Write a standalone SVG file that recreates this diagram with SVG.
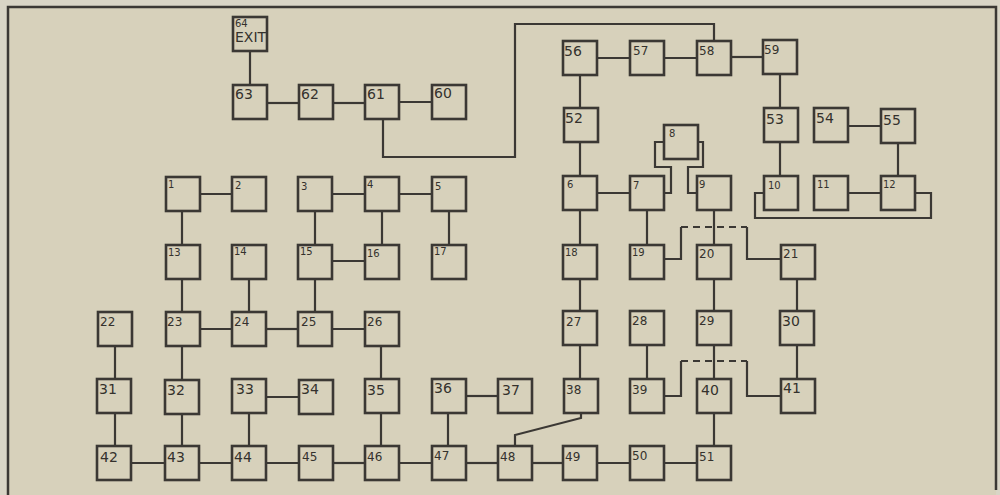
<svg xmlns="http://www.w3.org/2000/svg" width="1000" height="495" viewBox="0 0 1000 495">
<style>
.bg{fill:#d7d1bb}
.frame{fill:none;stroke:#3b3834;stroke-width:2.5}
.box{fill:#d7d1bb;stroke:#3b3834;stroke-width:2.6}
.c{fill:none;stroke:#3b3834;stroke-width:2.2}
.d{fill:none;stroke:#3b3834;stroke-width:2.2;stroke-dasharray:7 5}
text{font-family:"DejaVu Sans","Liberation Sans",sans-serif;fill:#34312d}
.s{font-size:10px}
.m{font-size:12px}
.l{font-size:14px}
</style>
<rect x="0" y="0" width="1000" height="495" fill="#d9d5c6"/>
<rect class="bg" x="8" y="7" width="988" height="488"/>
<path class="frame" d="M8,495 V7 H996 V490"/>
<g id="connectors">
<line class="c" x1="250" y1="51" x2="250" y2="85"/>
<line class="c" x1="267" y1="103" x2="299" y2="103"/>
<line class="c" x1="333" y1="103" x2="365" y2="103"/>
<line class="c" x1="399" y1="102" x2="432" y2="102"/>
<path class="c" d="M383,119 V157 H515 V24 H714 V41"/>
<line class="c" x1="597" y1="58" x2="630" y2="58"/>
<line class="c" x1="664" y1="58" x2="697" y2="58"/>
<line class="c" x1="731" y1="57" x2="763" y2="57"/>
<line class="c" x1="580" y1="75" x2="580" y2="108"/>
<line class="c" x1="580" y1="142" x2="580" y2="176"/>
<line class="c" x1="780" y1="74" x2="780" y2="108"/>
<line class="c" x1="780" y1="142" x2="780" y2="176"/>
<line class="c" x1="848" y1="126" x2="881" y2="126"/>
<line class="c" x1="898" y1="143" x2="898" y2="176"/>
<line class="c" x1="848" y1="193" x2="881" y2="193"/>
<path class="c" d="M764,193 H755 V218 H931 V193 H915"/>
<path class="c" d="M664,193 H671 V167 H655 V142 H664"/>
<path class="c" d="M698,142 H703 V167 H688 V193 H697"/>
<line class="c" x1="597" y1="193" x2="630" y2="193"/>
<line class="c" x1="199" y1="194" x2="232" y2="194"/>
<line class="c" x1="332" y1="194" x2="365" y2="194"/>
<line class="c" x1="399" y1="194" x2="432" y2="194"/>
<line class="c" x1="182" y1="211" x2="182" y2="245"/>
<line class="c" x1="315" y1="211" x2="315" y2="245"/>
<line class="c" x1="382" y1="211" x2="382" y2="245"/>
<line class="c" x1="449" y1="211" x2="449" y2="245"/>
<line class="c" x1="580" y1="210" x2="580" y2="245"/>
<line class="c" x1="647" y1="210" x2="647" y2="245"/>
<line class="c" x1="714" y1="210" x2="714" y2="245"/>
<path class="c" d="M664,259 H681 V227"/>
<line class="d" x1="681" y1="227" x2="747" y2="227"/>
<path class="c" d="M747,227 V259 H781"/>
<line class="c" x1="332" y1="261" x2="365" y2="261"/>
<line class="c" x1="182" y1="279" x2="182" y2="312"/>
<line class="c" x1="249" y1="279" x2="249" y2="312"/>
<line class="c" x1="315" y1="279" x2="315" y2="312"/>
<line class="c" x1="199" y1="329" x2="232" y2="329"/>
<line class="c" x1="266" y1="329" x2="298" y2="329"/>
<line class="c" x1="332" y1="329" x2="365" y2="329"/>
<line class="c" x1="115" y1="346" x2="115" y2="379"/>
<line class="c" x1="182" y1="346" x2="182" y2="380"/>
<line class="c" x1="381" y1="346" x2="381" y2="379"/>
<line class="c" x1="580" y1="279" x2="580" y2="311"/>
<line class="c" x1="580" y1="345" x2="580" y2="379"/>
<line class="c" x1="647" y1="345" x2="647" y2="379"/>
<line class="c" x1="714" y1="279" x2="714" y2="311"/>
<line class="c" x1="714" y1="345" x2="714" y2="379"/>
<line class="c" x1="797" y1="279" x2="797" y2="311"/>
<line class="c" x1="797" y1="345" x2="797" y2="379"/>
<line class="c" x1="266" y1="397" x2="299" y2="397"/>
<line class="c" x1="466" y1="396" x2="498" y2="396"/>
<path class="c" d="M664,396 H681 V361"/>
<line class="d" x1="681" y1="361" x2="747" y2="361"/>
<path class="c" d="M747,361 V396 H781"/>
<line class="c" x1="115" y1="413" x2="115" y2="446"/>
<line class="c" x1="182" y1="414" x2="182" y2="446"/>
<line class="c" x1="249" y1="413" x2="249" y2="446"/>
<line class="c" x1="381" y1="413" x2="381" y2="446"/>
<line class="c" x1="448" y1="413" x2="448" y2="446"/>
<line class="c" x1="714" y1="413" x2="714" y2="446"/>
<path class="c" d="M581,413 V418 L515,435 V446"/>
<line class="c" x1="132" y1="463" x2="165" y2="463"/>
<line class="c" x1="199" y1="463" x2="232" y2="463"/>
<line class="c" x1="266" y1="463" x2="299" y2="463"/>
<line class="c" x1="333" y1="463" x2="365" y2="463"/>
<line class="c" x1="399" y1="463" x2="432" y2="463"/>
<line class="c" x1="466" y1="463" x2="498" y2="463"/>
<line class="c" x1="532" y1="463" x2="563" y2="463"/>
<line class="c" x1="597" y1="463" x2="630" y2="463"/>
<line class="c" x1="664" y1="463" x2="697" y2="463"/>
</g>
<g id="n64"><rect class="box" x="233" y="17" width="34" height="34"/><text class="s" x="235" y="27">64</text><text class="l" x="235" y="42">EXIT</text></g>
<g id="n63"><rect class="box" x="233" y="85" width="34" height="34"/><text class="l" x="235" y="99">63</text></g>
<g id="n62"><rect class="box" x="299" y="85" width="34" height="34"/><text class="l" x="301" y="99">62</text></g>
<g id="n61"><rect class="box" x="365" y="85" width="34" height="34"/><text class="l" x="367" y="99">61</text></g>
<g id="n60"><rect class="box" x="432" y="85" width="34" height="34"/><text class="l" x="434" y="98">60</text></g>
<g id="n56"><rect class="box" x="563" y="41" width="34" height="34"/><text class="l" x="564" y="56">56</text></g>
<g id="n57"><rect class="box" x="630" y="41" width="34" height="34"/><text class="m" x="633" y="55">57</text></g>
<g id="n58"><rect class="box" x="697" y="41" width="34" height="34"/><text class="m" x="699" y="55">58</text></g>
<g id="n59"><rect class="box" x="763" y="40" width="34" height="34"/><text class="m" x="764" y="54">59</text></g>
<g id="n52"><rect class="box" x="564" y="108" width="34" height="34"/><text class="l" x="565" y="123">52</text></g>
<g id="n53"><rect class="box" x="764" y="108" width="34" height="34"/><text class="l" x="766" y="124">53</text></g>
<g id="n54"><rect class="box" x="814" y="108" width="34" height="34"/><text class="l" x="816" y="123">54</text></g>
<g id="n55"><rect class="box" x="881" y="109" width="34" height="34"/><text class="l" x="883" y="125">55</text></g>
<g id="n8"><rect class="box" x="664" y="125" width="34" height="34"/><text class="s" x="669" y="137">8</text></g>
<g id="n1"><rect class="box" x="166" y="177" width="34" height="34"/><text class="s" x="168" y="188">1</text></g>
<g id="n2"><rect class="box" x="232" y="177" width="34" height="34"/><text class="s" x="235" y="189">2</text></g>
<g id="n3"><rect class="box" x="298" y="177" width="34" height="34"/><text class="s" x="301" y="190">3</text></g>
<g id="n4"><rect class="box" x="365" y="177" width="34" height="34"/><text class="s" x="367" y="188">4</text></g>
<g id="n5"><rect class="box" x="432" y="177" width="34" height="34"/><text class="s" x="435" y="190">5</text></g>
<g id="n6"><rect class="box" x="563" y="176" width="34" height="34"/><text class="s" x="567" y="188">6</text></g>
<g id="n7"><rect class="box" x="630" y="176" width="34" height="34"/><text class="s" x="633" y="189">7</text></g>
<g id="n9"><rect class="box" x="697" y="176" width="34" height="34"/><text class="s" x="699" y="188">9</text></g>
<g id="n10"><rect class="box" x="764" y="176" width="34" height="34"/><text class="s" x="768" y="189">10</text></g>
<g id="n11"><rect class="box" x="814" y="176" width="34" height="34"/><text class="s" x="817" y="188">11</text></g>
<g id="n12"><rect class="box" x="881" y="176" width="34" height="34"/><text class="s" x="883" y="188">12</text></g>
<g id="n13"><rect class="box" x="166" y="245" width="34" height="34"/><text class="s" x="168" y="256">13</text></g>
<g id="n14"><rect class="box" x="232" y="245" width="34" height="34"/><text class="s" x="234" y="255">14</text></g>
<g id="n15"><rect class="box" x="298" y="245" width="34" height="34"/><text class="s" x="300" y="255">15</text></g>
<g id="n16"><rect class="box" x="365" y="245" width="34" height="34"/><text class="s" x="367" y="257">16</text></g>
<g id="n17"><rect class="box" x="432" y="245" width="34" height="34"/><text class="s" x="434" y="255">17</text></g>
<g id="n18"><rect class="box" x="563" y="245" width="34" height="34"/><text class="s" x="565" y="256">18</text></g>
<g id="n19"><rect class="box" x="630" y="245" width="34" height="34"/><text class="s" x="632" y="256">19</text></g>
<g id="n20"><rect class="box" x="697" y="245" width="34" height="34"/><text class="m" x="699" y="258">20</text></g>
<g id="n21"><rect class="box" x="781" y="245" width="34" height="34"/><text class="m" x="783" y="258">21</text></g>
<g id="n22"><rect class="box" x="98" y="312" width="34" height="34"/><text class="m" x="100" y="326">22</text></g>
<g id="n23"><rect class="box" x="166" y="312" width="34" height="34"/><text class="m" x="167" y="326">23</text></g>
<g id="n24"><rect class="box" x="232" y="312" width="34" height="34"/><text class="m" x="234" y="326">24</text></g>
<g id="n25"><rect class="box" x="298" y="312" width="34" height="34"/><text class="m" x="301" y="326">25</text></g>
<g id="n26"><rect class="box" x="365" y="312" width="34" height="34"/><text class="m" x="367" y="326">26</text></g>
<g id="n27"><rect class="box" x="563" y="311" width="34" height="34"/><text class="m" x="566" y="326">27</text></g>
<g id="n28"><rect class="box" x="630" y="311" width="34" height="34"/><text class="m" x="632" y="325">28</text></g>
<g id="n29"><rect class="box" x="697" y="311" width="34" height="34"/><text class="m" x="699" y="325">29</text></g>
<g id="n30"><rect class="box" x="780" y="311" width="34" height="34"/><text class="l" x="782" y="326">30</text></g>
<g id="n31"><rect class="box" x="97" y="379" width="34" height="34"/><text class="l" x="99" y="394">31</text></g>
<g id="n32"><rect class="box" x="165" y="380" width="34" height="34"/><text class="l" x="167" y="395">32</text></g>
<g id="n33"><rect class="box" x="232" y="379" width="34" height="34"/><text class="l" x="236" y="394">33</text></g>
<g id="n34"><rect class="box" x="299" y="380" width="34" height="34"/><text class="l" x="301" y="394">34</text></g>
<g id="n35"><rect class="box" x="365" y="379" width="34" height="34"/><text class="l" x="367" y="395">35</text></g>
<g id="n36"><rect class="box" x="432" y="379" width="34" height="34"/><text class="l" x="434" y="393">36</text></g>
<g id="n37"><rect class="box" x="498" y="379" width="34" height="34"/><text class="l" x="502" y="395">37</text></g>
<g id="n38"><rect class="box" x="564" y="379" width="34" height="34"/><text class="m" x="566" y="394">38</text></g>
<g id="n39"><rect class="box" x="630" y="379" width="34" height="34"/><text class="m" x="632" y="394">39</text></g>
<g id="n40"><rect class="box" x="697" y="379" width="34" height="34"/><text class="l" x="701" y="395">40</text></g>
<g id="n41"><rect class="box" x="781" y="379" width="34" height="34"/><text class="l" x="783" y="393">41</text></g>
<g id="n42"><rect class="box" x="97" y="446" width="34" height="34"/><text class="l" x="100" y="462">42</text></g>
<g id="n43"><rect class="box" x="165" y="446" width="34" height="34"/><text class="l" x="167" y="462">43</text></g>
<g id="n44"><rect class="box" x="232" y="446" width="34" height="34"/><text class="l" x="234" y="462">44</text></g>
<g id="n45"><rect class="box" x="299" y="446" width="34" height="34"/><text class="m" x="302" y="461">45</text></g>
<g id="n46"><rect class="box" x="365" y="446" width="34" height="34"/><text class="m" x="367" y="461">46</text></g>
<g id="n47"><rect class="box" x="432" y="446" width="34" height="34"/><text class="m" x="434" y="460">47</text></g>
<g id="n48"><rect class="box" x="498" y="446" width="34" height="34"/><text class="m" x="500" y="461">48</text></g>
<g id="n49"><rect class="box" x="563" y="446" width="34" height="34"/><text class="m" x="565" y="461">49</text></g>
<g id="n50"><rect class="box" x="630" y="446" width="34" height="34"/><text class="m" x="632" y="460">50</text></g>
<g id="n51"><rect class="box" x="697" y="446" width="34" height="34"/><text class="m" x="699" y="461">51</text></g>
</svg>
